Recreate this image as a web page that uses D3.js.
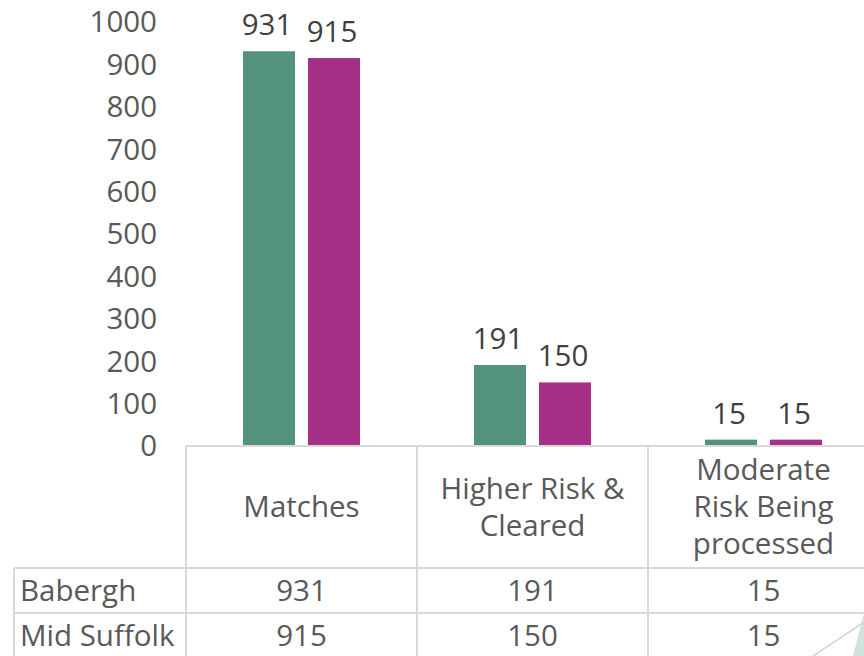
<!DOCTYPE html>
<html>
<head>
<meta charset="utf-8">
<script src="https://cdn.jsdelivr.net/npm/d3@7"></script>
<style>
  body { margin: 0; background: #fff; }
  svg { display: block; }
  text { font-family: "Open Sans", "DejaVu Sans", sans-serif; }
</style>
</head>
<body>
<div id="chart"></div>
<script>
// data
const categories = [["Matches"], ["Higher Risk &", "Cleared"], ["Moderate", "Risk Being", "processed"]];
const seriesNames = ["Babergh", "Mid Suffolk"];
const babergh = [931, 191, 15];
const midSuffolk = [915, 150, 15];
const yTicks = [0, 100, 200, 300, 400, 500, 600, 700, 800, 900, 1000];
const colors = ["#53927e", "#a63087"];

const width = 864, height = 656;
const left = 186, colW = 231, base = 446;
const fs = 29.5;

const svg = d3.select('#chart').append('svg')
    .attr('width', width)
    .attr('height', height);

const x = d3.scaleBand()
    .domain(d3.range(categories.length))
    .range([left, left + colW * categories.length])
    .paddingInner(0).paddingOuter(0);

const xs = d3.scaleBand()
    .domain([0, 1])
    .range([x.bandwidth() / 2 - 58.5, x.bandwidth() / 2 + 58.5])
    .paddingInner(0.2);

const y = d3.scaleLinear()
    .domain([0, 1000])
    .range([base, 22]);

// y axis labels
svg.append("g")
    .selectAll("text")
    .data(yTicks)
    .enter().append("text")
    .attr("x", 157)
    .attr("y", d => y(d))
    .attr("dy", "0.35em")
    .attr("text-anchor", "end")
    .attr("font-size", fs)
    .attr("fill", "#595959")
    .text(d => d);

// bars
const series = [babergh, midSuffolk];
series.forEach((vals, si) => {
    const g = svg.append("g");
    g.selectAll("rect")
        .data(vals)
        .enter().append("rect")
        .attr("x", (d, i) => x(i) + xs(si))
        .attr("width", xs.bandwidth())
        .attr("y", d => y(d))
        .attr("height", d => base - y(d))
        .attr("fill", colors[si]);
    g.selectAll("text")
        .data(vals)
        .enter().append("text")
        .attr("x", (d, i) => x(i) + xs(si) + xs.bandwidth() / 2 - 2)
        .attr("y", d => y(d) - 16)
        .attr("text-anchor", "middle")
        .attr("font-size", fs)
        .attr("fill", "#404040")
        .text(d => d);
});

// data table
const grid = "#d9d9d9";
const hdrBottom = 568, rowH = 45;
const tbl = svg.append("g");

// horizontal lines
tbl.append("line").attr("x1", left).attr("x2", width).attr("y1", base).attr("y2", base)
    .attr("stroke", grid).attr("stroke-width", 2);
[hdrBottom, hdrBottom + rowH].forEach(yy => {
    tbl.append("line").attr("x1", 14).attr("x2", width).attr("y1", yy).attr("y2", yy)
        .attr("stroke", grid).attr("stroke-width", 2);
});
// vertical lines
d3.range(categories.length).forEach(i => {
    tbl.append("line").attr("x1", x(i)).attr("x2", x(i)).attr("y1", base).attr("y2", height)
        .attr("stroke", grid).attr("stroke-width", 2);
});
tbl.append("line").attr("x1", 14).attr("x2", 14).attr("y1", hdrBottom).attr("y2", height)
    .attr("stroke", grid).attr("stroke-width", 2);

// header text
categories.forEach((lines, i) => {
    const t = tbl.append("text")
        .attr("x", x(i) + x.bandwidth() / 2)
        .attr("y", (base + hdrBottom) / 2 - (lines.length - 1) * 37 / 2)
        .attr("text-anchor", "middle")
        .attr("font-size", fs)
        .attr("fill", "#595959");
    lines.forEach((ln, k) => {
        t.append("tspan")
            .attr("x", x(i) + x.bandwidth() / 2)
            .attr("dy", k === 0 ? "0.35em" : 37)
            .text(ln);
    });
});

// rows
series.forEach((vals, si) => {
    const cy = hdrBottom + rowH * si + rowH / 2;
    tbl.append("text")
        .attr("x", 20).attr("y", cy).attr("dy", "0.35em")
        .attr("font-size", fs).attr("fill", "#595959")
        .text(seriesNames[si]);
    tbl.selectAll(null)
        .data(vals)
        .enter().append("text")
        .attr("x", (d, i) => x(i) + x.bandwidth() / 2)
        .attr("y", cy).attr("dy", "0.35em")
        .attr("text-anchor", "middle")
        .attr("font-size", fs).attr("fill", "#595959")
        .text(d => d);
});

// decorative corner
svg.append("polygon")
    .attr("points", "853,656 864,613 864,656")
    .attr("fill", "#cfe3dc");
svg.append("line")
    .attr("x1", 813).attr("y1", 656).attr("x2", 864).attr("y2", 622)
    .attr("stroke", "#d0d0d0").attr("stroke-width", 1.5);
</script>
</body>
</html>
